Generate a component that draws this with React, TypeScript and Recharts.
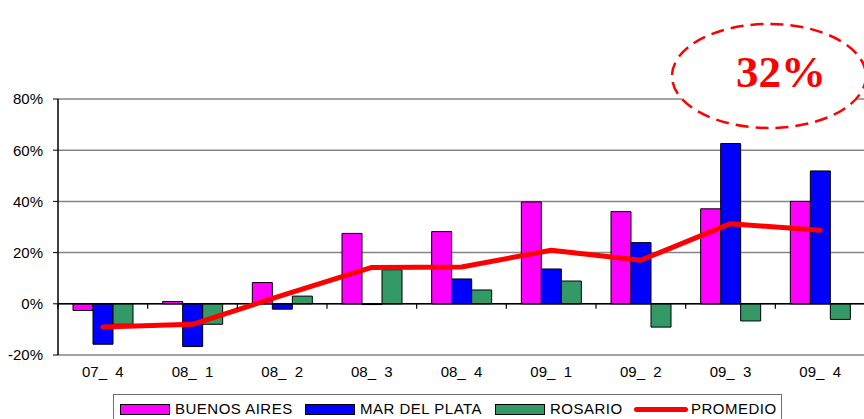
import React from "react";
import {
  ComposedChart,
  Bar,
  Line,
  XAxis,
  YAxis,
  CartesianGrid,
  ReferenceLine,
} from "recharts";

// quarters (year_ quarter)
const categories = ["07_  4", "08_  1", "08_  2", "08_  3", "08_  4", "09_  1", "09_  2", "09_  3", "09_  4"];

// variation in %
const buenosAires = [-2.6, 0.9, 8.3, 27.5, 28.2, 39.8, 36.0, 37.1, 40.0];
const marDelPlata = [-15.8, -16.7, -2.1, -0.3, 9.7, 13.6, 23.9, 62.6, 51.9];
const rosario = [-8.0, -8.0, 3.0, 13.3, 5.4, 8.9, -9.1, -6.7, -6.1];
const promedio = [-9.1, -8.0, 3.3, 14.2, 14.4, 20.9, 17.0, 31.3, 28.7];

const yTicks = [-20, 0, 20, 40, 60, 80];
const highlight = "32%";

const series = [
  { key: "buenosAires", name: "BUENOS AIRES", color: "#FF00FF" },
  { key: "marDelPlata", name: "MAR DEL PLATA", color: "#0000FF" },
  { key: "rosario", name: "ROSARIO", color: "#339966" },
];
const lineSeries = { key: "promedio", name: "PROMEDIO", color: "#FF0000" };

const data = categories.map((name, i) => ({
  name,
  buenosAires: buenosAires[i],
  marDelPlata: marDelPlata[i],
  rosario: rosario[i],
  promedio: promedio[i],
}));

// layout
const W = 866;
const H = 419;
const M = { top: 99, right: 1, bottom: 34, left: 0 };
const Y_AXIS_W = 58;
const X_AXIS_H = 30;
const PLOT_W = W - M.left - M.right - Y_AXIS_W;
const PLOT_H = H - M.top - M.bottom - X_AXIS_H;
const Y_MIN = yTicks[0];
const Y_MAX = yTicks[yTicks.length - 1];
const ZERO_Y = M.top + ((Y_MAX - 0) / (Y_MAX - Y_MIN)) * PLOT_H;
const BAND = PLOT_W / categories.length;

const FONT = "Arial, 'Liberation Sans', sans-serif";

function XTick(props: any) {
  const { x, y, payload, index } = props;
  const left = x - BAND / 2;
  const right = x + BAND / 2;
  return (
    <g>
      <text
        x={x}
        y={y}
        dy="0.71em"
        textAnchor="middle"
        fontSize={15}
        fontFamily={FONT}
        fill="#000"
        style={{ whiteSpace: "pre" }}
      >
        {payload.value}
      </text>
      <line x1={left} x2={left} y1={ZERO_Y} y2={ZERO_Y + 5} stroke="#000" strokeWidth={1.2} />
      {index === categories.length - 1 && (
        <line x1={right} x2={right} y1={ZERO_Y} y2={ZERO_Y + 5} stroke="#000" strokeWidth={1.2} />
      )}
    </g>
  );
}

const legendTextWidths = [119, 124, 73, 86];

function LegendBox() {
  const items = [...series, lineSeries];
  return (
    <div
      style={{
        position: "absolute",
        left: 113,
        top: 394,
        width: 669,
        height: 40,
        border: "1px solid #707070",
        background: "#fff",
        boxSizing: "border-box",
        fontFamily: FONT,
        fontSize: 15,
        letterSpacing: "0.5px",
        color: "#000",
      }}
    >
      <div style={{ display: "flex", alignItems: "center", marginLeft: 6, marginTop: 6, height: 16 }}>
        {items.map((s, i) => (
          <div key={s.key} style={{ display: "flex", alignItems: "center", marginRight: 11 }}>
            {s.key === "promedio" ? (
              <div style={{ width: 54, height: 5, borderRadius: 3, background: s.color, marginRight: 3 }} />
            ) : (
              <div
                style={{
                  width: 48,
                  height: 9,
                  background: s.color,
                  border: "1px solid #000",
                  marginRight: 5,
                }}
              />
            )}
            <span style={{ width: legendTextWidths[i], whiteSpace: "nowrap", lineHeight: "16px" }}>{s.name}</span>
          </div>
        ))}
      </div>
    </div>
  );
}

export default function App() {
  return (
    <div style={{ position: "absolute", left: 0, top: 0, width: 864, height: 419, overflow: "hidden", background: "#fff" }}>
      <ComposedChart
        width={W}
        height={H}
        data={data}
        margin={M}
        barCategoryGap={15}
        barGap={0}
      >
        <CartesianGrid horizontal vertical={false} stroke="#858585" strokeWidth={1.5} />
        <XAxis
          dataKey="name"
          height={X_AXIS_H}
          axisLine={false}
          tickLine={false}
          tickSize={0}
          tickMargin={11}
          interval={0}
          tick={<XTick />}
        />
        <YAxis
          width={Y_AXIS_W}
          domain={[Y_MIN, Y_MAX]}
          ticks={yTicks}
          allowDataOverflow
          tickFormatter={(v) => `${v}%`}
          axisLine={{ stroke: "#000", strokeWidth: 1.5 }}
          tickLine={{ stroke: "#000" }}
          tickSize={5}
          tickMargin={10}
          tick={{ fill: "#000", fontSize: 15, fontFamily: FONT }}
        />
        {series.map((s) => (
          <Bar
            key={s.key}
            dataKey={s.key}
            name={s.name}
            fill={s.color}
            stroke="#000"
            strokeWidth={1}
            isAnimationActive={false}
          />
        ))}
        <ReferenceLine y={0} stroke="#000" strokeWidth={1.5} />
        <Line
          dataKey={lineSeries.key}
          name={lineSeries.name}
          stroke={lineSeries.color}
          strokeWidth={5}
          strokeLinecap="round"
          strokeLinejoin="round"
          dot={false}
          activeDot={false}
          type="linear"
          isAnimationActive={false}
        />
      </ComposedChart>

      <svg width={864} height={419} style={{ position: "absolute", left: 0, top: 0, pointerEvents: "none" }}>
        <ellipse
          cx={769}
          cy={76}
          rx={97}
          ry={52}
          fill="#fff"
          stroke="#FF0000"
          strokeWidth={2.5}
          strokeDasharray="13 7"
        />
        <text
          x={781}
          y={87}
          textAnchor="middle"
          fill="#FF0000"
          fontSize={45}
          fontWeight="bold"
          fontFamily="'Liberation Serif', 'DejaVu Serif', serif"
        >
          {highlight}
        </text>
      </svg>

      <LegendBox />
    </div>
  );
}
